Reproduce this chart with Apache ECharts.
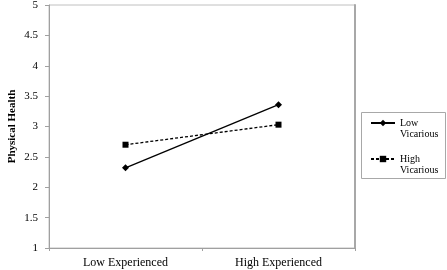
<!DOCTYPE html>
<html>
<head>
<meta charset="utf-8">
<script src="https://cdn.jsdelivr.net/npm/echarts@6/dist/echarts.min.js"></script>
<style>
  html, body { margin: 0; padding: 0; background: #fff; }
  #chart { width: 447px; height: 270px; }
</style>
</head>
<body>
<div id="chart"></div>
<script>
// data
var categories = ['Low Experienced', 'High Experienced'];
var lowVicarious = [2.32, 3.36];
var highVicarious = [2.70, 3.03];
var yTicks = [1, 1.5, 2, 2.5, 3, 3.5, 4, 4.5, 5];

var serif = 'Liberation Serif';
var axisGray = '#a0a0a0';

var chart = echarts.init(document.getElementById('chart'));

var option = {
    animation: false,
    backgroundColor: '#fff',
    grid: {
        left: 49,
        top: 5,
        width: 306,
        height: 243,
        outerBoundsMode: 'none',
        containLabel: false,
        show: true,
        borderColor: '#c0c0c0',
        borderWidth: 1
    },
    // legend frame
    graphic: [{
        type: 'rect',
        z: 0,
        shape: { x: 361.5, y: 112.5, width: 84, height: 66 },
        style: { fill: '#fff', stroke: '#a8a8a8', lineWidth: 1 }
    }],
    legend: {
        orient: 'vertical',
        left: 370,
        top: 106.5,
        padding: 0,
        itemGap: 3,
        itemWidth: 24,
        itemHeight: 8,
        z: 10,
        data: ['Low Vicarious', 'High Vicarious'],
        // blank first line so the icon sits beside the first word
        formatter: function (name) {
            return ' \n' + name.replace(' ', '\n');
        },
        textStyle: {
            fontFamily: serif,
            fontSize: 10,
            lineHeight: 11,
            color: '#000'
        }
    },
    xAxis: {
        type: 'category',
        data: categories,
        boundaryGap: true,
        axisLine: { lineStyle: { color: axisGray, width: 1 } },
        axisTick: { show: true, length: 3, lineStyle: { color: axisGray } },
        axisLabel: { color: '#000', fontFamily: serif, fontSize: 12, margin: 9 }
    },
    yAxis: [{
        type: 'value',
        min: 1,
        max: 5,
        interval: 0.5,
        name: 'Physical Health',
        nameLocation: 'middle',
        nameGap: 31,
        nameMoveOverlap: false,
        nameTextStyle: { fontFamily: serif, fontSize: 11, fontWeight: 'bold', color: '#000' },
        splitLine: { show: false },
        axisLine: { show: true, lineStyle: { color: axisGray, width: 1 } },
        axisTick: { show: true, length: 4, lineStyle: { color: axisGray } },
        axisLabel: {
            color: '#000', fontFamily: serif, fontSize: 11, margin: 11,
            formatter: function (v) { return yTicks.indexOf(v) >= 0 ? String(v) : ''; }
        }
    }, {
        type: 'value',
        position: 'right',
        min: 1,
        max: 5,
        splitLine: { show: false },
        axisLine: { show: true, lineStyle: { color: '#a8a8a8', width: 2 } },
        axisTick: { show: false },
        axisLabel: { show: false }
    }],
    series: [{
        name: 'Low Vicarious',
        type: 'line',
        data: lowVicarious,
        symbol: 'diamond',
        symbolSize: 7,
        itemStyle: { color: '#000' },
        lineStyle: { color: '#000', width: 1.3, type: 'solid' }
    }, {
        name: 'High Vicarious',
        type: 'line',
        data: highVicarious,
        symbol: 'rect',
        symbolSize: 6,
        itemStyle: { color: '#000' },
        lineStyle: { color: '#000', width: 1.3, type: [3, 2] }
    }]
};

chart.setOption(option);
</script>
</body>
</html>
